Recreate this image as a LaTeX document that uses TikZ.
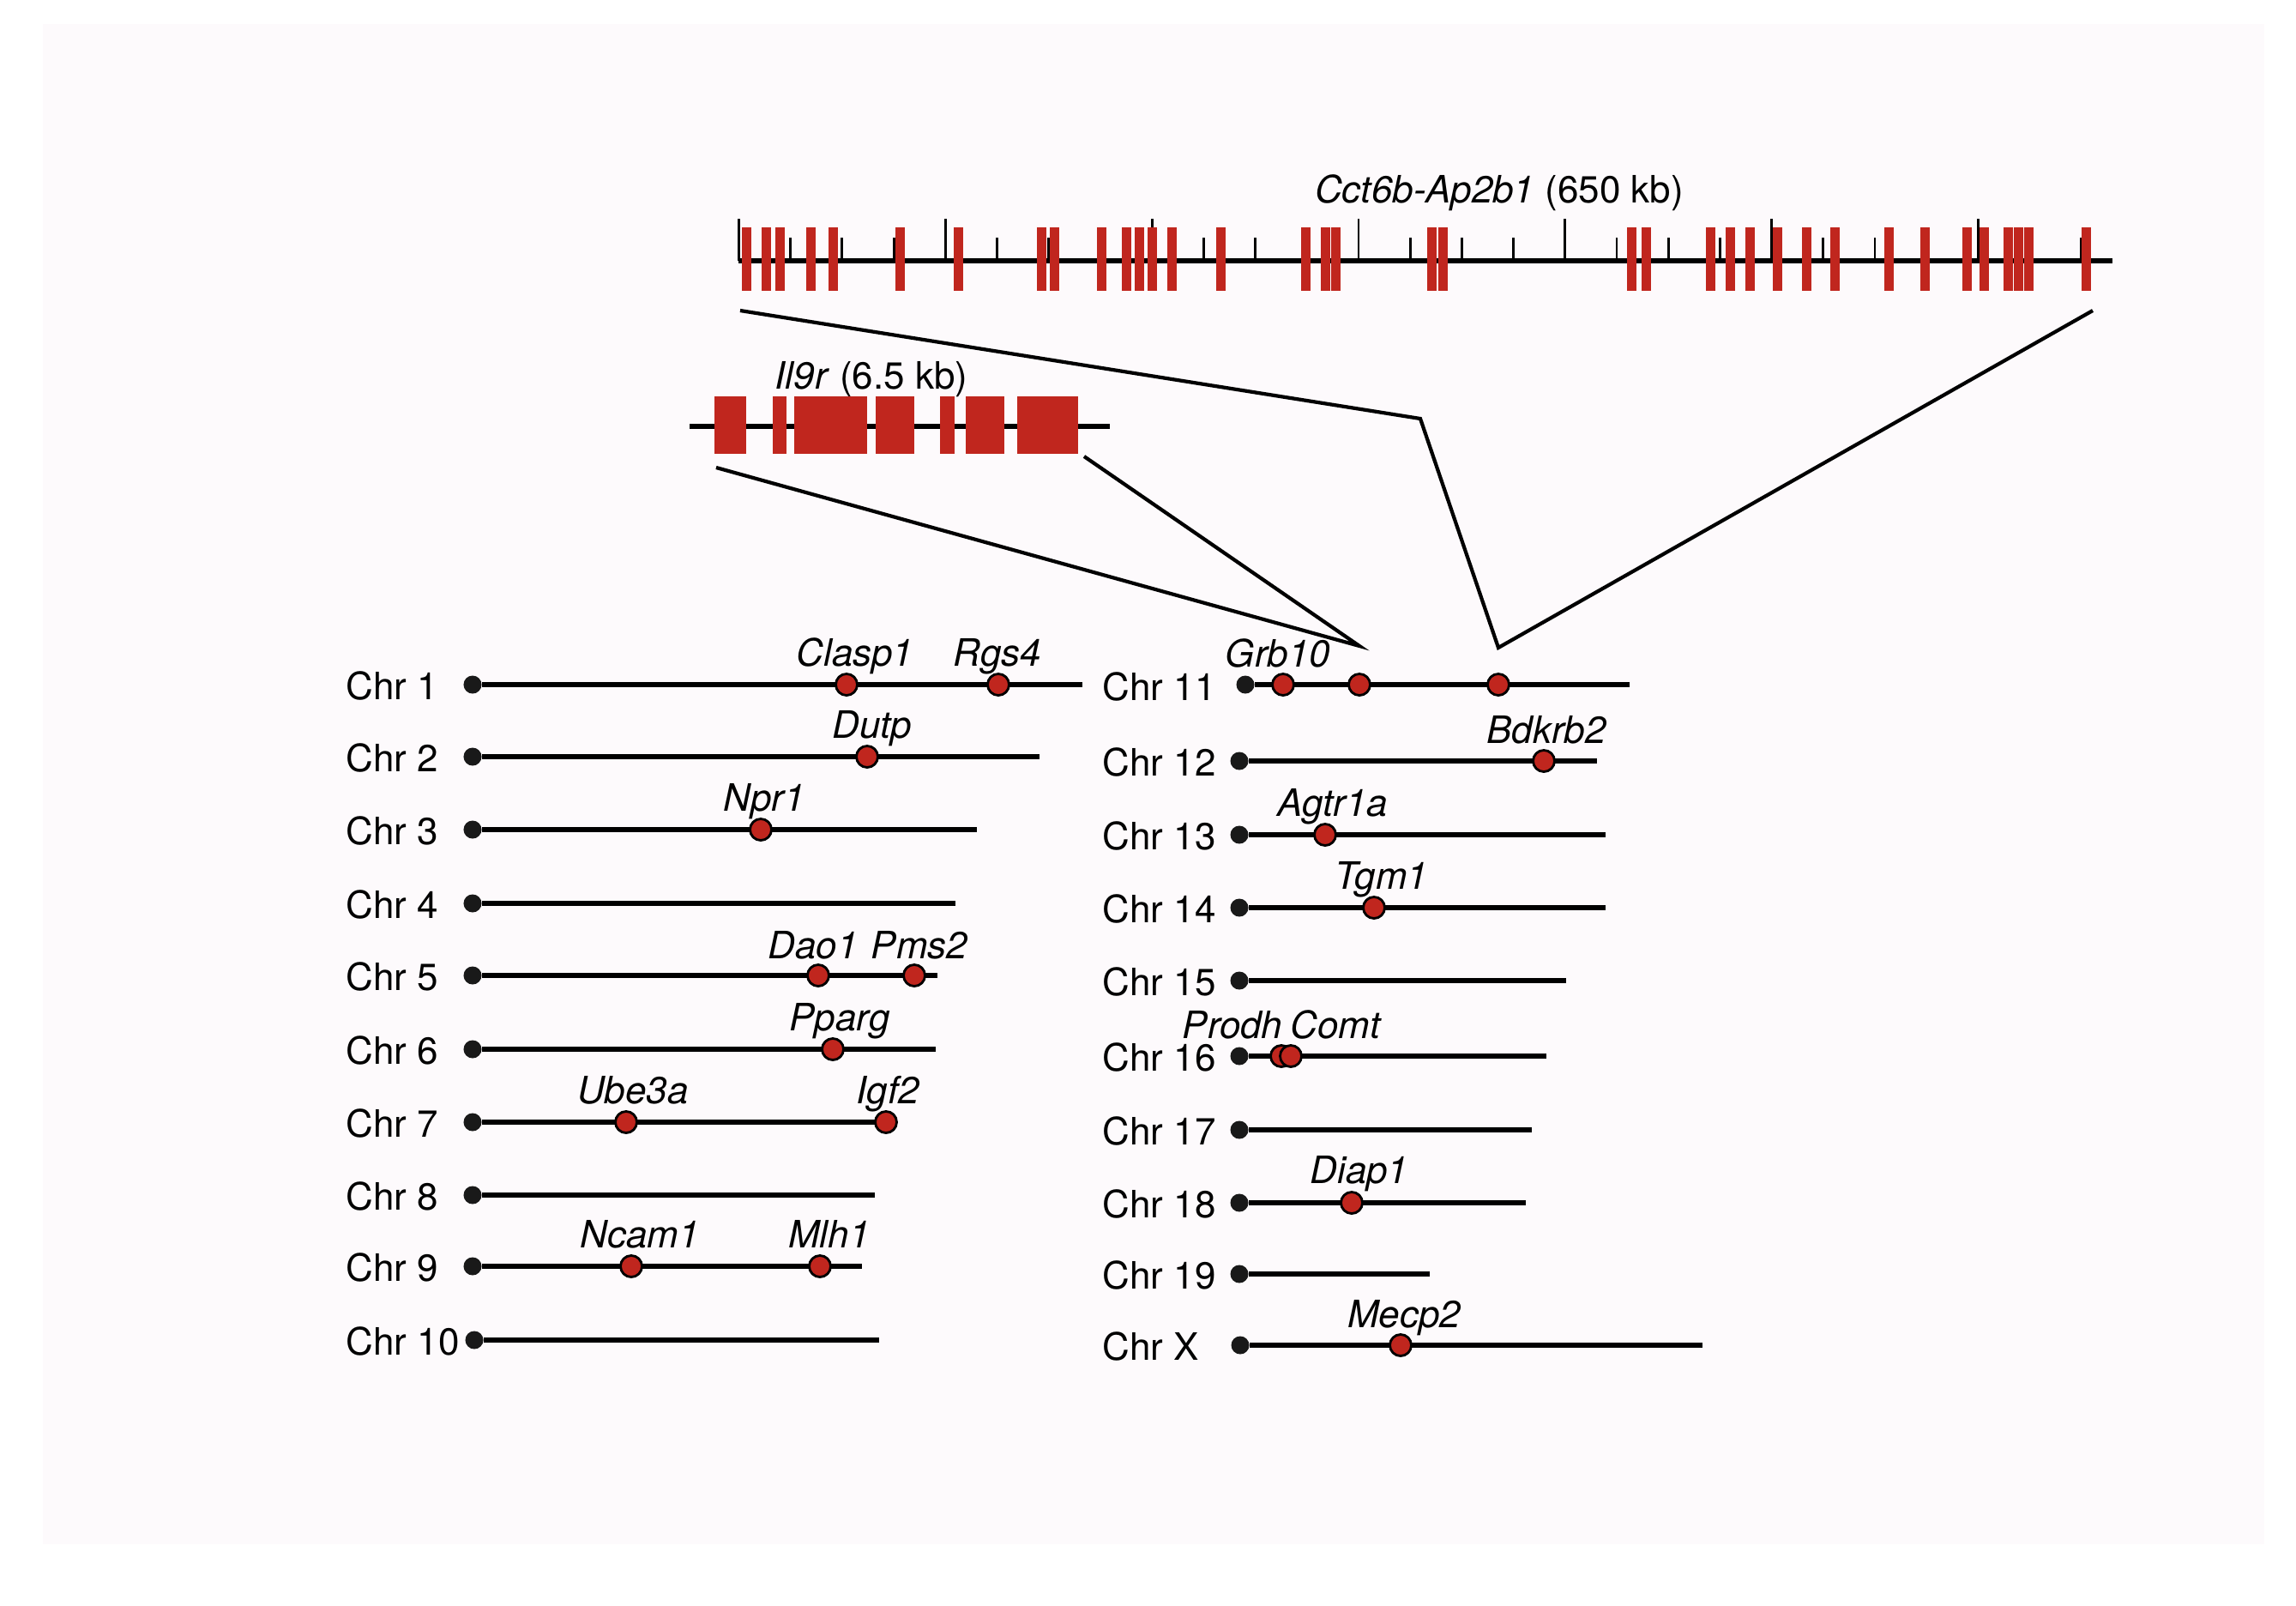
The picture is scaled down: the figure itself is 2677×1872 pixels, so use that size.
\documentclass[tikz,border=0pt]{standalone}
\usepackage{fontspec}
\setmainfont{TeX Gyre Heros}
\definecolor{exonred}{RGB}{192,38,30}
\definecolor{scan}{RGB}{253,250,252}
\begin{document}
\begin{tikzpicture}[x=0.01cm,y=-0.01cm,
    every node/.style={inner sep=0pt,font=\fontsize{12.5}{15}\selectfont},
    chrname/.style={anchor=base west},
    gname/.style={anchor=base,font=\fontsize{12.5}{15}\selectfont\itshape},
    cen/.style={circle,fill=black!90,minimum size=0.21cm},
    hit/.style={circle,draw=black,line width=0.8pt,fill=exonred,minimum size=0.25cm},
    chrline/.style={line width=1.7pt},
    exon/.style={fill=exonred},
    zoomline/.style={line width=1.2pt,line join=miter}]

  \fill[white] (0,0) rectangle (2677,1872);
  \fill[scan] (50,28) rectangle (2640,1800);
  \useasboundingbox (0,0) rectangle (2677,1872);

  \node[anchor=base] (cct) at (1748,236) {\textit{Cct6b-Ap2b1} (650 kb)};
  \coordinate (cctA) at (861,304);
  \coordinate (cctB) at (2463,304);
  \foreach \k in {0,...,26}{
    \pgfmathsetmacro\h{mod(\k,4)==0 ? 49 : 27}
    \draw[line width=0.8pt] (861.5+60.2*\k,304) -- ++(0,-\h);
  }
  \draw[chrline] (cctA) -- (cctB);
  \foreach \x in {870.7,893,909.7,945.3,971.7,1049.8,1117,1214.5,1229.5,1284.6,
                  1313.8,1328.8,1343.7,1366,1423.5,1522.8,1545.2,1557.2,1669.8,1682.4,
                  1902.6,1919.9,1994.4,2017.3,2040.3,2072.4,2106.6,2139.3,2202,2244.4,
                  2293.9,2313.8,2341.3,2353.1,2365.8,2432.1}
    \fill[exon] (\x-5.5,265) rectangle (\x+5.5,339);

  \node[anchor=base] (il9r) at (1016,453) {\textit{Il9r} (6.5 kb)};
  \draw[chrline] (804,497) -- (1294,497);
  \foreach \a/\b in {832.5/870,901.4/916.8,926.4/1011.4,1021.4/1066.4,1095.7/1113.2,1125.7/1171,1185.7/1256.8}
    \fill[exon] (\a,462) rectangle (\b,529);

  \node[chrname] (lbl1) at (403,815) {Chr 1};
  \node[cen] (c1) at (551,798) {};
  \draw[chrline] (c1) -- (1262,798);
  \node[hit] (clasp1) at (987,798) {};
  \node[hit] (rgs4) at (1164,798) {};
  \node[gname] (clasp1txt) at (997,776) {Clasp1};
  \node[gname] (rgs4txt) at (1163,776) {Rgs4};

  \node[chrname] (lbl2) at (403,899) {Chr 2};
  \node[cen] (c2) at (551,882) {};
  \draw[chrline] (c2) -- (1212,882);
  \node[hit] (dutp) at (1011,882) {};
  \node[gname] (dutptxt) at (1017,860) {Dutp};

  \node[chrname] (lbl3) at (403,984) {Chr 3};
  \node[cen] (c3) at (551,967) {};
  \draw[chrline] (c3) -- (1139,967);
  \node[hit] (npr1) at (887,967) {};
  \node[gname] (npr1txt) at (891,945) {Npr1};

  \node[chrname] (lbl4) at (403,1070) {Chr 4};
  \node[cen] (c4) at (551,1053) {};
  \draw[chrline] (c4) -- (1114,1053);

  \node[chrname] (lbl5) at (403,1154) {Chr 5};
  \node[cen] (c5) at (551,1137) {};
  \draw[chrline] (c5) -- (1093,1137);
  \node[hit] (dao1) at (954,1137) {};
  \node[hit] (pms2) at (1066,1137) {};
  \node[gname] (dao1txt) at (948,1117) {Dao1};
  \node[gname] (pms2txt) at (1072,1117) {Pms2};

  \node[chrname] (lbl6) at (403,1240) {Chr 6};
  \node[cen] (c6) at (551,1223) {};
  \draw[chrline] (c6) -- (1091,1223);
  \node[hit] (pparg) at (971,1223) {};
  \node[gname] (ppargtxt) at (979,1201) {Pparg};

  \node[chrname] (lbl7) at (403,1325) {Chr 7};
  \node[cen] (c7) at (551,1308) {};
  \draw[chrline] (c7) -- (1043,1308);
  \node[hit] (ube3a) at (730,1308) {};
  \node[hit] (igf2) at (1033,1308) {};
  \node[gname] (ube3atxt) at (738,1286) {Ube3a};
  \node[gname] (igf2txt) at (1035,1286) {Igf2};

  \node[chrname] (lbl8) at (403,1410) {Chr 8};
  \node[cen] (c8) at (551,1393) {};
  \draw[chrline] (c8) -- (1020,1393);

  \node[chrname] (lbl9) at (403,1493) {Chr 9};
  \node[cen] (c9) at (551,1476) {};
  \draw[chrline] (c9) -- (1005,1476);
  \node[hit] (ncam1) at (736,1476) {};
  \node[hit] (mlh1) at (956,1476) {};
  \node[gname] (ncam1txt) at (746,1454) {Ncam1};
  \node[gname] (mlh1txt) at (967,1454) {Mlh1};

  \node[chrname] (lbl10) at (403,1579) {Chr 10};
  \node[cen] (c10) at (553,1562) {};
  \draw[chrline] (c10) -- (1025,1562);

  \node[chrname] (lbl11) at (1285,816) {Chr 11};
  \node[cen] (c11) at (1452,798) {};
  \draw[chrline] (c11) -- (1900,798);
  \node[hit] (grb10) at (1496,798) {};
  \node[hit] (m11b) at (1585,798) {};
  \node[hit] (m11c) at (1747,798) {};
  \node[gname] (grb10txt) at (1490,777) {Grb10};

  \node[chrname] (lbl12) at (1285,904) {Chr 12};
  \node[cen] (c12) at (1445,887) {};
  \draw[chrline] (c12) -- (1862,887);
  \node[hit] (bdkrb2) at (1800,887) {};
  \node[gname] (bdkrb2txt) at (1803,866) {Bdkrb2};

  \node[chrname] (lbl13) at (1285,990) {Chr 13};
  \node[cen] (c13) at (1445,973) {};
  \draw[chrline] (c13) -- (1872,973);
  \node[hit] (agtr1a) at (1545,973) {};
  \node[gname] (agtr1atxt) at (1554,951) {Agtr1a};

  \node[chrname] (lbl14) at (1285,1075) {Chr 14};
  \node[cen] (c14) at (1445,1058) {};
  \draw[chrline] (c14) -- (1872,1058);
  \node[hit] (tgm1) at (1602,1058) {};
  \node[gname] (tgm1txt) at (1611,1036) {Tgm1};

  \node[chrname] (lbl15) at (1285,1160) {Chr 15};
  \node[cen] (c15) at (1445,1143) {};
  \draw[chrline] (c15) -- (1826,1143);

  \node[chrname] (lbl16) at (1285,1248) {Chr 16};
  \node[cen] (c16) at (1445,1231) {};
  \draw[chrline] (c16) -- (1803,1231);
  \node[hit] (prodh) at (1494,1231) {};
  \node[hit] (comt) at (1505,1231) {};
  \node[gname] (prodhtxt) at (1437,1210) {Prodh};
  \node[gname] (comttxt) at (1557,1210) {Comt};

  \node[chrname] (lbl17) at (1285,1334) {Chr 17};
  \node[cen] (c17) at (1445,1317) {};
  \draw[chrline] (c17) -- (1786,1317);

  \node[chrname] (lbl18) at (1285,1419) {Chr 18};
  \node[cen] (c18) at (1445,1402) {};
  \draw[chrline] (c18) -- (1779,1402);
  \node[hit] (diap1) at (1576,1402) {};
  \node[gname] (diap1txt) at (1585,1379) {Diap1};

  \node[chrname] (lbl19) at (1285,1502) {Chr 19};
  \node[cen] (c19) at (1445,1485) {};
  \draw[chrline] (c19) -- (1667,1485);

  \node[chrname] (lblX) at (1285,1585) {Chr X};
  \node[cen] (cX) at (1446,1568) {};
  \draw[chrline] (cX) -- (1985,1568);
  \node[hit] (mecp2) at (1633,1568) {};
  \node[gname] (mecp2txt) at (1637,1547) {Mecp2};

  \coordinate (il9rL) at (835,545);
  \coordinate (il9rR) at (1264,532);
  \coordinate (il9rtip) at ([yshift=0.45cm]m11b.center);
  \draw[zoomline] (il9rL) -- (il9rtip) -- (il9rR);

  \coordinate (cctL) at (863,362);
  \coordinate (cctR) at (2440,362);
  \coordinate (cctbend) at (1656,488);
  \coordinate (ccttip) at ([yshift=0.43cm]m11c.center);
  \draw[zoomline] (cctL) -- (cctbend) -- (ccttip) -- (cctR);
\end{tikzpicture}
\end{document}
